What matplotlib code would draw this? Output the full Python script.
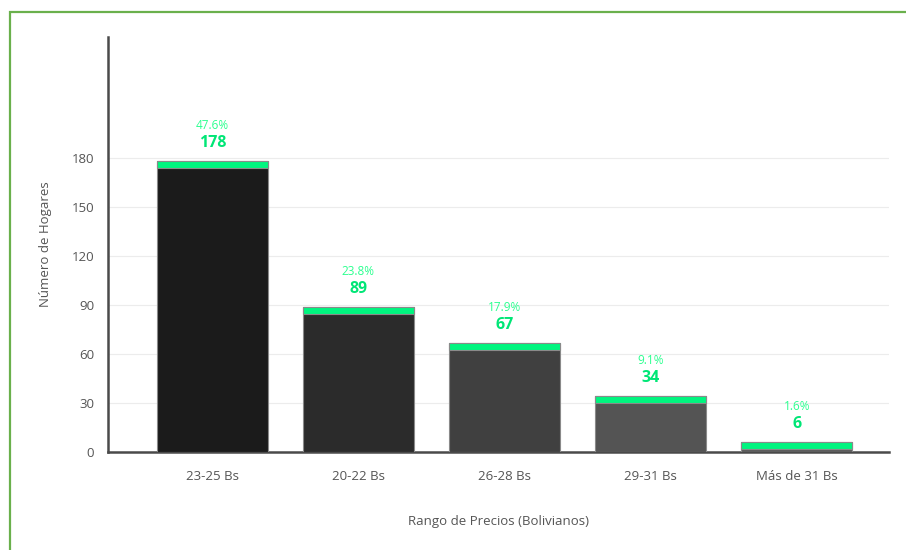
import numpy as np
import matplotlib
matplotlib.use('Agg')
import matplotlib.pyplot as plt
from matplotlib.patches import Rectangle

plt.rcParams['font.family'] = ['Open Sans', 'DejaVu Sans']

categorias = ['23-25 Bs', '20-22 Bs', '26-28 Bs', '29-31 Bs', 'Más de 31 Bs']
hogares = [178, 89, 67, 34, 6]
porcentajes = ['47.6%', '23.8%', '17.9%', '9.1%', '1.6%']
colores = ['#1b1b1b', '#2b2b2b', '#404040', '#545454', '#5c5c5c']

verde = '#00f57f'
gris = '#555555'

fig = plt.figure(figsize=(9.06, 5.5), dpi=100)
# marco verde de la tarjeta
fig.patches.append(Rectangle((9.5/906, -0.1), 1.2, 1 - 11.5/550 + 0.1,
                             transform=fig.transFigure, fill=False,
                             edgecolor='#6ab04c', linewidth=1.6))

ax = fig.add_axes([108/906, 1 - 452/550, (889 - 108)/906, (452 - 37)/550])
x = np.arange(len(categorias))
ancho = 0.76
cap = 4.3

ax.bar(x, hogares, width=ancho, color=colores, edgecolor='#8a8a8a',
       linewidth=0.8, zorder=3)
ax.bar(x, [cap]*len(x), width=ancho, bottom=np.array(hogares) - cap,
       color=verde, edgecolor='#8a8a8a', linewidth=0.8, zorder=4)

for i, v in enumerate(hogares):
    ax.annotate(str(v), (x[i], v), xytext=(0, 10), textcoords='offset pixels',
                ha='center', va='bottom', fontsize=11.5, fontweight='bold',
                color='#00e676', zorder=5)
    ax.annotate(porcentajes[i], (x[i], v), xytext=(0, 29), textcoords='offset pixels',
                ha='center', va='bottom', fontsize=8.5, color='#2bff8f', zorder=5)

ax.set_xlim(-0.714, 4.632)
ax.set_ylim(0, 254)
ax.set_yticks(np.arange(0, 181, 30))
ax.set_xticks(x)
ax.set_xticklabels(categorias)
ax.tick_params(axis='both', length=0, colors=gris, labelsize=9.5)
ax.tick_params(axis='x', pad=13)
ax.tick_params(axis='y', pad=10)
ax.grid(axis='y', color='#ececec', linewidth=0.8, zorder=0)

for s in ['top', 'right']:
    ax.spines[s].set_visible(False)
for s in ['left', 'bottom']:
    ax.spines[s].set_color('#4a4a4a')
    ax.spines[s].set_linewidth(1.8)

ax.set_xlabel('Rango de Precios (Bolivianos)', color=gris, fontsize=9.5, labelpad=23)
ax.set_ylabel('Número de Hogares', color=gris, fontsize=9.5, labelpad=14)

fig.savefig('out.png', dpi=100)
